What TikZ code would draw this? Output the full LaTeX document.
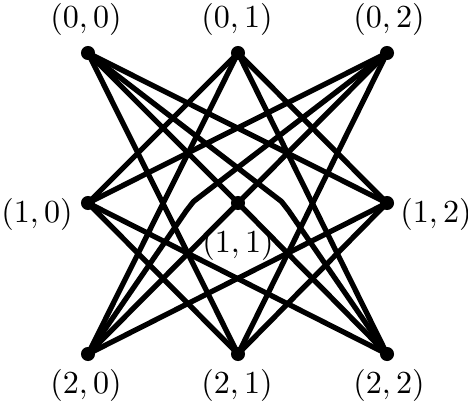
\documentclass[tikz,border=0pt]{standalone}
\begin{document}
\begin{tikzpicture}[x=0.341pt,y=-0.341pt,
  vtx/.style={circle,fill=black,inner sep=0pt,minimum size=4.8pt},
  lbl/.style={inner sep=0pt,font=\fontsize{10.5}{12}\selectfont},
  edge/.style={line width=1.8pt,line join=round}]
\useasboundingbox (0,0) rectangle (468,406);
\node[vtx] (a00) at (88,53) {};
\node[vtx] (a01) at (238,53) {};
\node[vtx] (a02) at (387,53) {};
\node[vtx] (a10) at (88,203) {};
\node[vtx] (a11) at (238,203) {};
\node[vtx] (a12) at (387,203) {};
\node[vtx] (a20) at (88,354) {};
\node[vtx] (a21) at (238,354) {};
\node[vtx] (a22) at (387,354) {};
\node[lbl] (l00) at (86,19) {$(0,0)$};
\node[lbl] (l01) at (237,19) {$(0,1)$};
\node[lbl] (l02) at (389,19) {$(0,2)$};
\node[lbl] (l10) at (37,214) {$(1,0)$};
\node[lbl] (l11) at (238,244) {$(1,1)$};
\node[lbl] (l12) at (436,214) {$(1,2)$};
\node[lbl] (l20) at (86,385) {$(2,0)$};
\node[lbl] (l21) at (237,385) {$(2,1)$};
\node[lbl] (l22) at (389,385) {$(2,2)$};
\coordinate (r1) at (281.5,201.5);
\coordinate (r2) at (288.5,210.5);
\coordinate (s1) at (193.5,201.5);
\coordinate (s2) at (186.5,210.5);
\begin{scope}[edge]
\draw (a00.center) -- (a11.center);
\draw (a00.center) -- (a12.center);
\draw (a00.center) -- (a21.center);
\draw (a00.center) -- (r1) -- (r2) -- (a22.center);
\draw (a01.center) -- (a10.center);
\draw (a01.center) -- (a12.center);
\draw (a01.center) -- (a20.center);
\draw (a01.center) -- (a22.center);
\draw (a02.center) -- (a10.center);
\draw (a02.center) -- (a11.center);
\draw (a02.center) -- (s1) -- (s2) -- (a20.center);
\draw (a02.center) -- (a21.center);
\draw (a10.center) -- (a21.center);
\draw (a10.center) -- (a22.center);
\draw (a11.center) -- (a20.center);
\draw (a11.center) -- (a22.center);
\draw (a12.center) -- (a20.center);
\draw (a12.center) -- (a21.center);
\end{scope}
\end{tikzpicture}
\end{document}
